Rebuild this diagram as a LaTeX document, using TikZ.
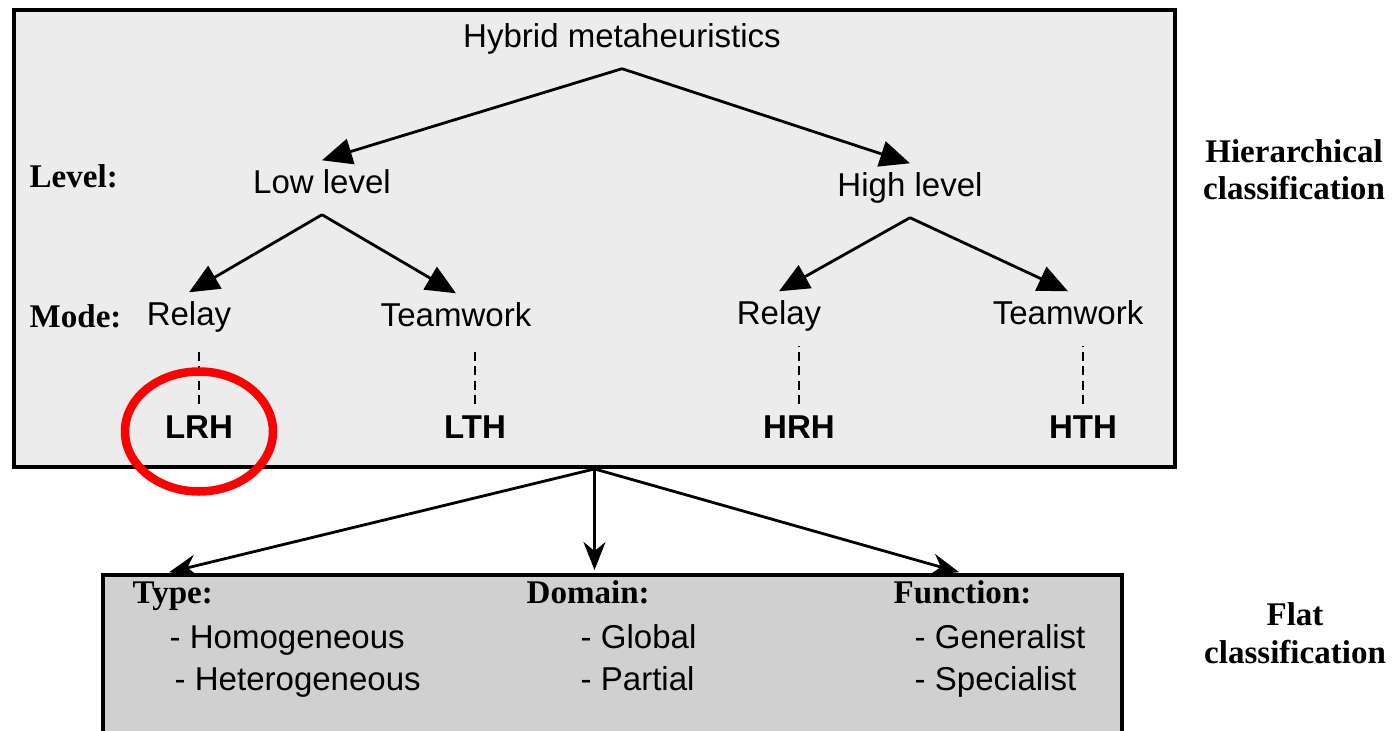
\documentclass[tikz,border=0pt]{standalone}
\usepackage{fontspec}
\setmainfont{Liberation Serif}
\setsansfont{Liberation Sans}
\usetikzlibrary{arrows.meta}
\definecolor{hiergray}{gray}{0.925}
\definecolor{flatgray}{gray}{0.815}

\begin{document}
\begin{tikzpicture}[
    >={Triangle[length=0.3cm,width=0.26cm]},
    hmnode/.style={font=\sffamily\fontsize{9.4}{11}\selectfont, anchor=base, inner xsep=0pt, inner ysep=0.12cm, text height=0.21cm, text depth=0.08cm},
    hmcode/.style={hmnode, font=\sffamily\bfseries\fontsize{9.4}{11}\selectfont},
    hmtag/.style={font=\bfseries\fontsize{9.4}{11}\selectfont, anchor=base west, inner sep=0pt},
    hmitem/.style={font=\sffamily\fontsize{9.4}{11}\selectfont, anchor=base west, inner sep=0pt},
    hmside/.style={font=\bfseries\fontsize{9.4}{10.6}\selectfont, align=center, anchor=base, inner sep=0pt},
    hbox/.style={draw, line width=1.1pt, fill=hiergray},
    fbox/.style={draw, line width=1.1pt, fill=flatgray},
    flatarrow/.style={thick, -{Stealth[length=0.28cm,width=0.22cm]}, shorten >=0.03cm},
    hmdash/.style={thick, dash pattern=on 0.09cm off 0.055cm}
  ]
    \useasboundingbox (0,0) rectangle (13.98,-7.31);
    \clip (0,0) rectangle (13.98,-7.31);
    % boxes
    \node[hbox, minimum width=11.61cm, minimum height=4.57cm] (hier) at (5.945,-2.385) {};
    \node[fbox, minimum width=10.19cm, minimum height=2cm, anchor=north] (flat) at (6.125,-5.73) {};
    % hierarchical tree
    \node[hmnode] (hm) at (6.22,-0.48) {Hybrid metaheuristics};
    \node[hmnode] (low) at (3.22,-1.94) {Low level};
    \node[hmnode] (high) at (9.10,-1.97) {High level};
    \node[hmnode] (lr) at (1.89,-3.26) {Relay};
    \node[hmnode] (lt) at (4.56,-3.27) {Teamwork};
    \node[hmnode] (hr) at (7.79,-3.25) {Relay};
    \node[hmnode] (ht) at (10.68,-3.25) {Teamwork};
    \node[hmcode] (lrh) at (1.99,-4.38) {LRH};
    \node[hmcode] (lth) at (4.75,-4.38) {LTH};
    \node[hmcode] (hrh) at (7.99,-4.38) {HRH};
    \node[hmcode] (hth) at (10.83,-4.38) {HTH};
    \node[hmtag] (level) at (0.29,-1.88) {Level:};
    \node[hmtag] (mode) at (0.29,-3.28) {Mode:};
    \draw[thick, ->] (hm.south) -- (low.north);
    \draw[thick, ->] (hm.south) -- (high.north);
    \draw[thick, ->] (low.south) -- (lr.north);
    \draw[thick, ->] (low.south) -- (lt.north);
    \draw[thick, ->] (high.south) -- (hr.north);
    \draw[thick, ->] (high.south) -- (ht.north);
    \draw[hmdash] (lrh.north) -- (lrh.north |- lr.south);
    \draw[hmdash] (lth.north) -- (lth.north |- lt.south);
    \draw[hmdash] (hrh.north) -- (hrh.north |- hr.south);
    \draw[hmdash] (hth.north) -- (hth.north |- ht.south);
    \draw[red, line width=0.085cm] (lrh) ellipse [x radius=0.74cm, y radius=0.6cm];
    % flat classification
    \draw[flatarrow] (hier.south) -- ([xshift=0.65cm]flat.north west);
    \draw[flatarrow] (hier.south) -- (hier.south |- flat.north);
    \draw[flatarrow] (hier.south) -- ([xshift=-1.62cm]flat.north east);
    \node[hmtag] (type) at (1.32,-6.03) {Type:};
    \node[hmtag] (domain) at (5.26,-6.03) {Domain:};
    \node[hmtag] (function) at (8.93,-6.03) {Function:};
    \node[hmitem] (homo) at (1.69,-6.48) {- Homogeneous};
    \node[hmitem] (hetero) at (1.74,-6.90) {- Heterogeneous};
    \node[hmitem] (global) at (5.80,-6.48) {- Global};
    \node[hmitem] (partial) at (5.80,-6.90) {- Partial};
    \node[hmitem] (general) at (9.14,-6.48) {- Generalist};
    \node[hmitem] (special) at (9.14,-6.90) {- Specialist};
    % side labels
    \node[hmside] (hierlbl) at (12.94,-2.00) {Hierarchical\\classification};
    \node[hmside] (flatlbl) at (12.95,-6.63) {Flat\\classification};
  \end{tikzpicture}
\end{document}
